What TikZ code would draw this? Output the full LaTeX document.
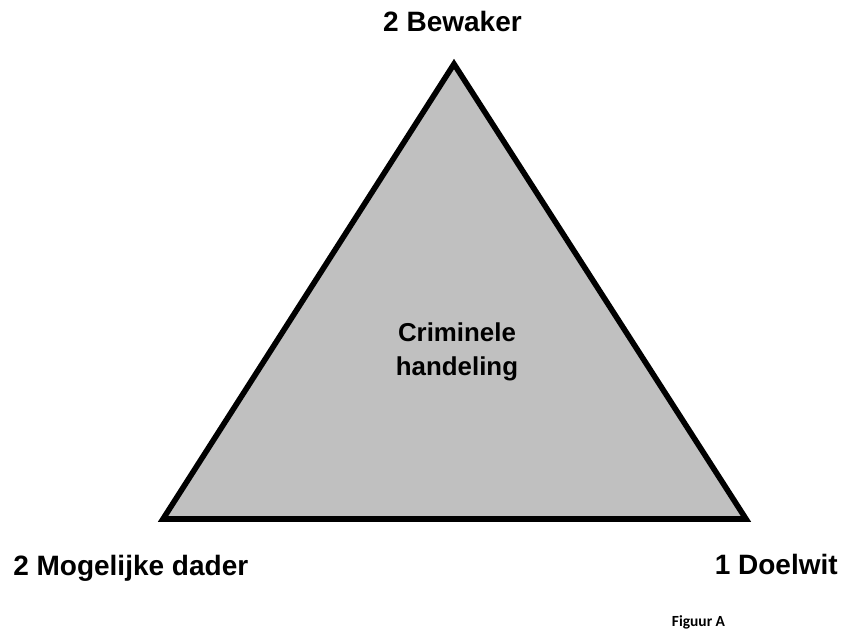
\documentclass[tikz,border=0pt]{standalone}
\usepackage{fontspec}
\setmainfont{Liberation Sans}
\newfontfamily\calibri{Carlito}
\definecolor{trifill}{RGB}{192,192,192}
\tikzset{
  lbl/.style={font=\fontsize{21}{25}\selectfont\bfseries, inner sep=0pt, anchor=base},
  ctr/.style={font=\fontsize{19.4}{25.5}\selectfont\bfseries, inner sep=0pt, align=center},
  figcap/.style={font=\calibri\fontsize{11.6}{14}\selectfont\bfseries, inner sep=0pt, anchor=base},
}
\begin{document}
\begin{tikzpicture}[x=0.75pt,y=-0.75pt]
\useasboundingbox (0,0) rectangle (845,631);
\coordinate (T) at (454,64);
\coordinate (L) at (163,519);
\coordinate (R) at (746,519);
\draw[line width=4.2pt, fill=trifill, line join=miter] (T) -- (R) -- (L) -- cycle;
\node[lbl] (bew) at (452.5,32) {2 Bewaker};
\node[lbl, anchor=base west] (dad) at (13,575) {2 Mogelijke dader};
\node[lbl, anchor=base east] (doel) at (838,574) {1 Doelwit};
\node[ctr] (crim) at (457,352) {Criminele\\handeling};
\node[figcap] (fig) at (698.5,626) {Figuur A};
\end{tikzpicture}
\end{document}
